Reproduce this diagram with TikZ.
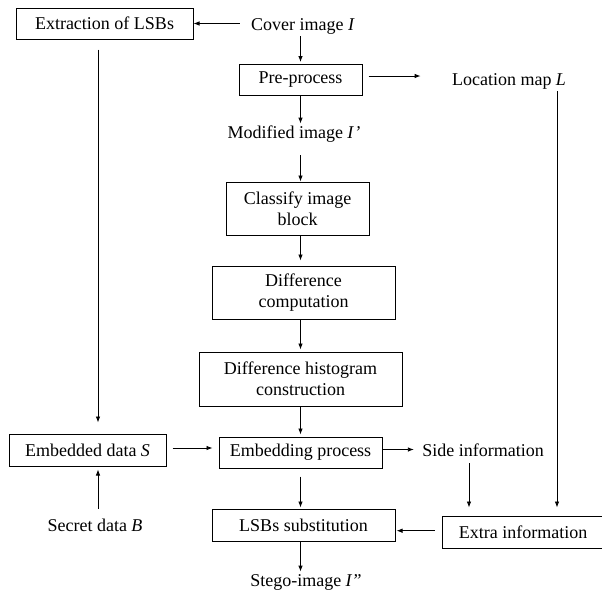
\documentclass[tikz,border=0pt]{standalone}
\usepackage{fontspec}
\setmainfont{Liberation Serif}
\usetikzlibrary{arrows.meta}

\begin{document}
\begin{tikzpicture}[x=1pt,y=-1pt,font=\fontsize{18}{21}\selectfont,>={Latex[length=6pt,width=4.5pt]},line width=0.8pt]
\tikzstyle{blk}=[draw,line width=1pt,align=center,minimum height=31pt,inner sep=3pt]
\tikzstyle{txt}=[inner sep=2pt,text height=12pt,text depth=4pt]
\useasboundingbox (0,0) rectangle (602,592);
% main column
\node[txt] (cover) at (303,26) {Cover image \textit{I}};
\node[blk,minimum width=123pt] (pre) at (300.5,79.5) {Pre-process};
\node[txt] (mod) at (294,134) {Modified image \textit{I\kern1pt\symbol{39}}};
\node[blk,minimum width=143pt,minimum height=53pt] (cls) at (297.5,208.5) {Classify image\\block};
\node[blk,minimum width=183pt,minimum height=53pt] (dif) at (303.5,292.5) {Difference\\computation};
\node[blk,minimum width=203pt,minimum height=54pt] (hist) at (300.5,379) {Difference histogram\\construction};
\node[blk,minimum width=163pt] (emb) at (300.5,452.5) {Embedding process};
\node[blk,minimum width=183pt,minimum height=32pt] (lsb) at (303.5,525) {LSBs substitution};
\node[txt] (stego) at (306,582) {Stego-image \textit{I\symbol{34}}};
% left side
\node[blk,minimum width=177pt] (ext) at (104.5,23.5) {Extraction of LSBs};
\node[blk,minimum width=157pt,minimum height=32pt] (data) at (87.5,450) {Embedded data \textit{S}};
\node[txt] (secret) at (95,527) {Secret data \textit{B}};
% right side
\node[txt] (loc) at (509,81) {Location map \textit{L}};
\node[txt] (side) at (483,452.7) {Side information};
\node[blk,minimum width=162pt,minimum height=32pt] (xtra) at (523,532) {Extra information};
% connectors
\draw[->,shorten <=9pt] (cover.west |- ext.east) -- (ext.east);
\draw[->,shorten >=1.5pt] (cover.south -| pre) -- (pre.north);
\draw[->,shorten <=6pt,shorten >=29pt] ([yshift=3.5pt]pre.east) -- ([yshift=3.5pt]pre.east -| loc.west);
\draw[->] (pre.south) -- (mod.north -| pre);
\draw[->,shorten <=11pt] (mod.south -| pre) -- (cls.north -| pre);
\draw[->,shorten >=5pt] (cls.south -| pre) -- (dif.north -| pre);
\draw[->,shorten >=2pt] (dif.south -| pre) -- (hist.north -| pre);
\draw[->,shorten >=2pt] (hist.south -| pre) -- (emb.north -| pre);
\draw[->,shorten <=8pt,shorten >=1pt] (emb.south) -- (lsb.north -| emb);
\draw[->] (lsb.south -| emb) -- (stego.north -| emb);
\draw[->,shorten <=10pt,shorten >=11pt] ([xshift=-6.5pt]ext.south) -- ([xshift=10.5pt]data.north);
\draw[->,shorten <=8pt,shorten >=3pt] ([xshift=3pt]secret.north) -- ([xshift=10.5pt]data.south);
\draw[->,shorten <=6pt,shorten >=6pt] ([yshift=2pt]data.east) -- ([yshift=2pt]data.east -| emb.west);
\draw[->,shorten >=6pt] ([yshift=3pt]emb.east) -- ([yshift=3pt]emb.east -| side.west);
\draw[->,shorten >=8pt] ([xshift=-14pt]side.south) -- ([xshift=-54pt]xtra.north);
\draw[->,shorten >=8pt] ([xshift=48pt]loc.south) -- ([xshift=34pt]xtra.north);
\draw[->,shorten <=7pt,shorten >=1pt] ([yshift=1.3pt]xtra.west) -- ([yshift=1.3pt]xtra.west -| lsb.east);
\end{tikzpicture}
\end{document}
